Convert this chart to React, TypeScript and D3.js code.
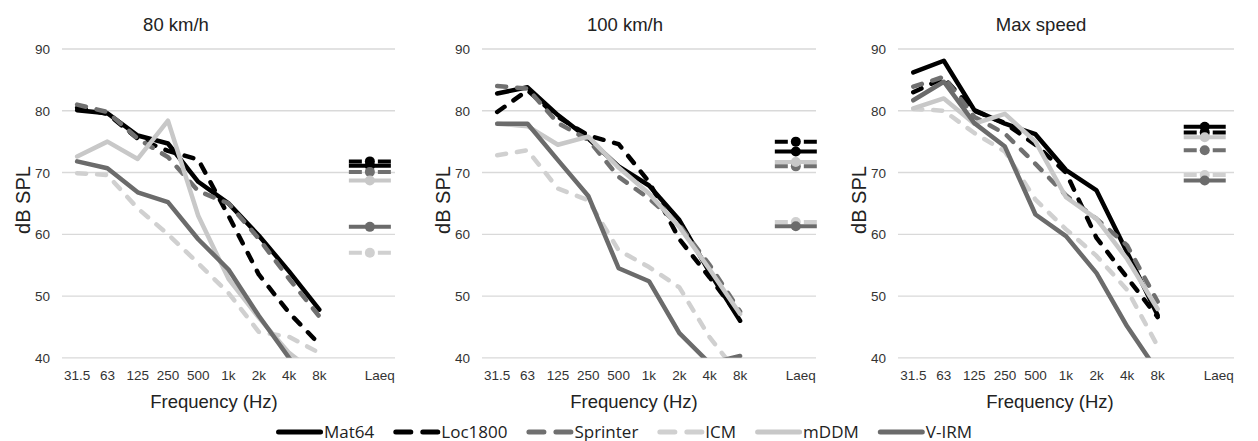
import React from "react";
import * as d3 from "d3";

// ---- categories / ticks ----
const FREQS = ["31.5", "63", "125", "250", "500", "1k", "2k", "4k", "8k"];
const CATEGORIES = [...FREQS, "gap", "Laeq"];
const Y_TICKS = [40, 50, 60, 70, 80, 90];
const SERIES_NAMES = ["Mat64", "Loc1800", "Sprinter", "ICM", "mDDM", "V-IRM"];
const PANEL_TITLES = ["80 km/h", "100 km/h", "Max speed"];

// ---- 80 km/h ----
const MAT64_80 = [80.1, 79.6, 76.0, 74.7, 68.5, 65.0, 59.8, 54.0, 47.8];
const LOC1800_80 = [80.5, 79.5, 75.5, 73.5, 72.1, 63.0, 53.5, 47.3, 42.2];
const SPRINTER_80 = [81.0, 79.8, 75.5, 72.5, 67.0, 65.0, 59.3, 52.8, 46.7];
const ICM_80 = [69.9, 69.6, 64.2, 60.0, 55.3, 50.5, 44.2, 43.4, 40.8];
const MDDM_80 = [72.6, 75.0, 72.2, 78.4, 63.0, 52.8, 46.5, 40.8, 37.0];
const VIRM_80 = [71.8, 70.7, 66.8, 65.2, 59.2, 54.3, 46.8, 40.0, 34.0];
const LAEQ_80 = [71.1, 71.8, 70.1, 57.0, 68.7, 61.2];

// ---- 100 km/h ----
const MAT64_100 = [82.8, 83.8, 79.3, 75.5, 71.0, 67.9, 62.3, 53.8, 46.0];
const LOC1800_100 = [79.8, 83.3, 79.0, 76.0, 74.6, 68.5, 59.2, 53.0, 46.5];
const SPRINTER_100 = [84.0, 83.6, 78.0, 75.3, 69.3, 65.8, 61.5, 55.0, 47.5];
const ICM_100 = [72.8, 73.6, 67.4, 65.5, 57.4, 54.7, 51.4, 43.3, 37.0];
const MDDM_100 = [77.9, 77.5, 74.5, 75.8, 70.8, 66.6, 61.2, 54.3, 47.1];
const VIRM_100 = [77.9, 77.9, 72.0, 66.2, 54.5, 52.4, 44.0, 39.1, 40.3];
const LAEQ_100 = [73.4, 75.0, 71.0, 62.0, 71.7, 61.3];

// ---- Max speed ----
const MAT64_MAX = [86.2, 88.1, 80.1, 77.9, 76.2, 70.4, 67.1, 57.1, 46.9];
const LOC1800_MAX = [83.0, 85.3, 80.0, 78.0, 74.5, 70.0, 59.4, 53.0, 46.6];
const SPRINTER_MAX = [83.9, 85.5, 79.0, 76.3, 71.4, 66.3, 62.5, 58.2, 49.1];
const ICM_MAX = [80.3, 80.0, 76.4, 73.4, 65.6, 60.8, 56.5, 51.0, 41.9];
const MDDM_MAX = [80.4, 82.0, 77.9, 79.5, 75.0, 66.0, 62.5, 56.0, 47.9];
const VIRM_MAX = [81.7, 84.7, 78.0, 74.2, 63.2, 59.7, 53.7, 45.1, 37.8];
const LAEQ_MAX = [77.4, 76.5, 73.6, 69.6, 75.7, 68.7];

// ---- styles ----
const STYLES = [
  { color: "#000000", dashed: false },
  { color: "#000000", dashed: true },
  { color: "#707070", dashed: true },
  { color: "#d0d0d0", dashed: true },
  { color: "#c8c8c8", dashed: false },
  { color: "#6b6b6b", dashed: false },
];

const W = 1258;
const H = 441;
const PLOT_TOP = 49;
const PLOT_BOTTOM = 357.8;
const FONT = "'Liberation Sans', Arial, sans-serif";
const LEGEND_FONT = "'Open Sans', 'Liberation Sans', sans-serif";

const PANELS = [
  { title: PANEL_TITLES[0], left: 62, right: 395, titleDx: 114, laeqDx: -10,
    series: [MAT64_80, LOC1800_80, SPRINTER_80, ICM_80, MDDM_80, VIRM_80], laeq: LAEQ_80 },
  { title: PANEL_TITLES[1], left: 482, right: 816, titleDx: 143, laeqDx: -5,
    series: [MAT64_100, LOC1800_100, SPRINTER_100, ICM_100, MDDM_100, VIRM_100], laeq: LAEQ_100 },
  { title: PANEL_TITLES[2], left: 898, right: 1234, titleDx: 143, laeqDx: -14,
    series: [MAT64_MAX, LOC1800_MAX, SPRINTER_MAX, ICM_MAX, MDDM_MAX, VIRM_MAX], laeq: LAEQ_MAX },
];

function Panel({ p, idx }: { p: any; idx: number }) {
  const x = d3.scaleBand<string>().domain(CATEGORIES).range([p.left, p.right]).padding(0);
  const y = d3.scaleLinear().domain([40, 90]).range([PLOT_BOTTOM, PLOT_TOP]);
  const bw = x.bandwidth();
  const cx = (c: string) => (x(c) as number) + bw / 2;
  const line = d3
    .line<number>()
    .x((_, i) => cx(FREQS[i]))
    .y((v) => y(v));
  const clipId = `clip-${idx}`;
  const laeqX = cx("Laeq") + p.laeqDx;
  return (
    <g>
      <defs>
        <clipPath id={clipId}>
          <rect x={p.left} y={PLOT_TOP - 5} width={p.right - p.left + 10} height={PLOT_BOTTOM - PLOT_TOP + 5} />
        </clipPath>
      </defs>
      {Y_TICKS.map((t) => (
        <g key={t}>
          <line x1={p.left} x2={p.right} y1={y(t)} y2={y(t)} stroke="#d9d9d9" strokeWidth={1.3} />
          <text x={p.left - 12} y={y(t) + 5} textAnchor="end" fontSize={13.5} fill="#333" fontFamily={FONT}>
            {t}
          </text>
        </g>
      ))}
      {CATEGORIES.filter((c) => c !== "gap").map((c) => (
        <text key={c} x={cx(c)} y={380} textAnchor="middle" fontSize={13.5} fill="#333" fontFamily={FONT}>
          {c}
        </text>
      ))}
      <text x={p.left + p.titleDx} y={31} textAnchor="middle" fontSize={18.5} fill="#222" fontFamily={FONT}>
        {p.title}
      </text>
      <text x={p.left + 152} y={408} textAnchor="middle" fontSize={18.5} fill="#222" fontFamily={FONT}>
        Frequency (Hz)
      </text>
      <text
        transform={`translate(${p.left - 37},${200}) rotate(-90)`}
        textAnchor="middle"
        dominantBaseline="middle"
        fontSize={20}
        fill="#222"
        fontFamily={FONT}
      >
        dB SPL
      </text>
      <g clipPath={`url(#${clipId})`}>
        {p.series.map((vals: number[], i: number) => (
          <path
            key={i}
            d={line(vals) as string}
            fill="none"
            stroke={STYLES[i].color}
            strokeWidth={4.5}
            strokeLinejoin="round"
            strokeLinecap="round"
            strokeDasharray={STYLES[i].dashed ? "9,11" : undefined}
          />
        ))}
        {p.laeq.map((v: number, i: number) => (
          <g key={`l${i}`}>
            <line
              x1={laeqX - 21}
              x2={laeqX + 21}
              y1={y(v)}
              y2={y(v)}
              stroke={STYLES[i].color}
              strokeWidth={4}
              strokeDasharray={STYLES[i].dashed ? "13,16" : undefined}
            />
            <circle cx={laeqX} cy={y(v)} r={5} fill={STYLES[i].color} />
          </g>
        ))}
      </g>
    </g>
  );
}

function Legend() {
  const fontSize = 17;
  let widths: number[] = SERIES_NAMES.map((n) => n.length * 9);
  if (typeof document !== "undefined") {
    const ctx = document.createElement("canvas").getContext("2d");
    if (ctx) {
      ctx.font = `${fontSize}px 'Open Sans'`;
      widths = SERIES_NAMES.map((n) => ctx.measureText(n).width);
    }
  }
  const sample = 47;
  const gap = 19;
  const itemW = widths.map((w) => sample + 1 + w);
  const total = d3.sum(itemW) + gap * (itemW.length - 1);
  const centerX = 624;
  let acc = centerX - total / 2;
  const starts = itemW.map((w) => {
    const s = acc;
    acc += w + gap;
    return s;
  });
  const ly = 432;
  return (
    <g>
      {SERIES_NAMES.map((n, i) => (
        <g key={n}>
          <line
            x1={starts[i] + 2.5}
            x2={starts[i] + sample - 2.5}
            y1={ly}
            y2={ly}
            stroke={STYLES[i].color}
            strokeWidth={5}
            strokeLinecap="round"
            strokeDasharray={STYLES[i].dashed ? "15,12" : undefined}
          />
          <text x={starts[i] + sample + 1} y={ly + 5.5} fontSize={fontSize} fill="#222" fontFamily={LEGEND_FONT}>
            {n}
          </text>
        </g>
      ))}
    </g>
  );
}

export default function App() {
  return (
    <svg
      width={W}
      height={H}
      viewBox={`0 0 ${W} ${H}`}
      style={{ position: "absolute", left: 0, top: 0, background: "#fff" }}
    >
      <rect width={W} height={H} fill="#fff" />
      {PANELS.map((p, i) => (
        <Panel key={i} p={p} idx={i} />
      ))}
      <Legend />
    </svg>
  );
}
